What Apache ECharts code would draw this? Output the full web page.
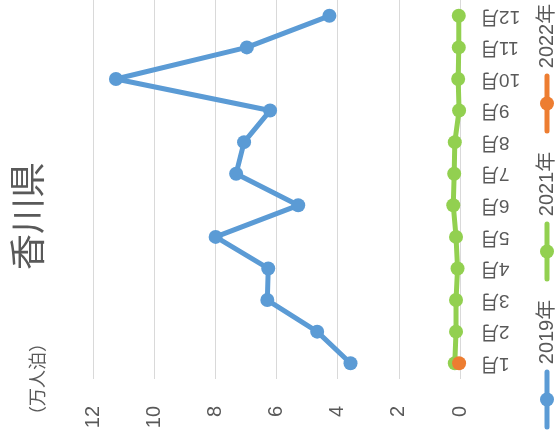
<!DOCTYPE html>
<html><head><meta charset="utf-8">
<script src="https://cdn.jsdelivr.net/npm/echarts@6/dist/echarts.min.js"></script>
<style>html,body{margin:0;padding:0;background:#fff}#c{width:557px;height:441px}</style>
</head><body><div id="c"></div>
<script>
const months = ['1月','2月','3月','4月','5月','6月','7月','8月','9月','10月','11月','12月'];
const seriesNames = ['2019年','2021年','2022年'];
const seriesColors = ['#5B9BD5','#92D050','#ED7D31'];
const v2019 = [3.58,4.67,6.30,6.27,7.99,5.29,7.32,7.06,6.21,11.25,6.97,4.27];
const v2021 = [0.17,0.13,0.13,0.08,0.13,0.22,0.19,0.17,0.03,0.06,0.04,0.04];
const v2022 = [0.03];
const valueMin = 0, valueMax = 12, valueStep = 2;
const titleText = '香川県';
const unitText = '（万人泊）';

const FONT = "'Liberation Sans','Noto Sans CJK JP',sans-serif";
const TXT = '#595959';

const chart = echarts.init(document.getElementById('c'));

const legendGraphics = [];
seriesNames.forEach((name, i) => {
  const base = 427 - i * 148;
  legendGraphics.push({
    type: 'line', x: 547, y: 0,
    shape: { x1: 0, y1: base, x2: 0, y2: base - 55 },
    style: { stroke: seriesColors[i], lineWidth: 5, lineCap: 'round' }
  });
  legendGraphics.push({
    type: 'circle', x: 547, y: base - 27.5,
    shape: { cx: 0, cy: 0, r: 7 },
    style: { fill: seriesColors[i] }
  });
  legendGraphics.push({
    type: 'text', x: 547, y: base - 95, rotation: Math.PI / 2,
    style: { text: name, fill: TXT, font: '20px ' + FONT, textAlign: 'center', textVerticalAlign: 'middle' }
  });
});

chart.setOption({
  animation: false,
  grid: { left: 93, right: 97, top: 0, bottom: 62, containLabel: false },
  xAxis: {
    type: 'value', inverse: true, min: valueMin, max: valueMax, interval: valueStep,
    axisLine: { show: false }, axisTick: { show: false },
    splitLine: { show: true, lineStyle: { color: '#D9D9D9', width: 1 } },
    axisLabel: { rotate: 90, margin: 27, fontSize: 20, color: TXT, fontFamily: FONT }
  },
  yAxis: {
    type: 'category', data: months, position: 'right',
    axisLine: { show: false }, axisTick: { show: false },
    splitLine: { show: false },
    axisLabel: { rotate: 180, margin: 20, fontSize: 19, color: TXT, fontFamily: FONT }
  },
  series: [
    { name: seriesNames[0], type: 'line', data: v2019, symbol: 'circle', symbolSize: 14,
      itemStyle: { color: seriesColors[0] }, lineStyle: { width: 5, color: seriesColors[0] } },
    { name: seriesNames[1], type: 'line', data: v2021, symbol: 'circle', symbolSize: 14,
      itemStyle: { color: seriesColors[1] }, lineStyle: { width: 5, color: seriesColors[1] } },
    { name: seriesNames[2], type: 'line', data: v2022, symbol: 'circle', symbolSize: 14,
      itemStyle: { color: seriesColors[2] }, lineStyle: { width: 5, color: seriesColors[2] } }
  ],
  graphic: [
    { type: 'text', x: 31, y: 216, rotation: Math.PI / 2,
      style: { text: titleText, fill: TXT, font: '36px ' + FONT, textAlign: 'center', textVerticalAlign: 'middle' } },
    { type: 'text', x: 39, y: 379, rotation: Math.PI / 2,
      style: { text: unitText, fill: TXT, font: '18px ' + FONT, textAlign: 'center', textVerticalAlign: 'middle' } }
  ].concat(legendGraphics)
});
</script></body></html>
